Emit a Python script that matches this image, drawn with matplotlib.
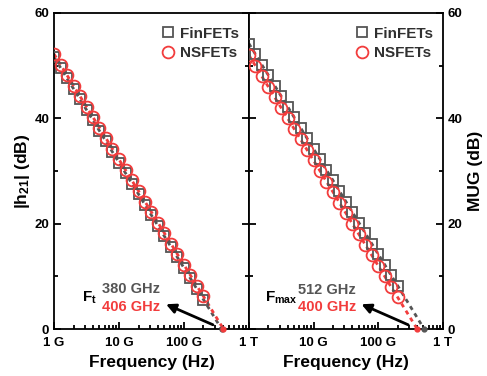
import numpy as np
import matplotlib
matplotlib.use("Agg")
import matplotlib.pyplot as plt

plt.rcParams['font.family'] = ['Liberation Sans', 'DejaVu Sans']
plt.rcParams['font.weight'] = 'bold'
plt.rcParams['axes.labelweight'] = 'bold'
plt.rcParams['mathtext.fontset'] = 'custom'
plt.rcParams['mathtext.rm'] = 'Liberation Sans:bold'
plt.rcParams['mathtext.it'] = 'Liberation Sans:bold'
plt.rcParams['mathtext.bf'] = 'Liberation Sans:bold'

# frequency points (GHz)
freq = [1.0, 1.26, 1.58, 2.0, 2.51, 3.16, 3.98, 5.01, 6.31, 7.94,
        10, 12.6, 15.8, 20, 25.1, 31.6, 39.8, 50.1, 63.1, 79.4,
        100, 126, 158, 200]

# |h21| (dB)
h21_fin = [51.6, 49.6, 47.6, 45.6, 43.6, 41.6, 39.6, 37.6, 35.6, 33.6,
           31.6, 29.6, 27.6, 25.6, 23.6, 21.6, 19.6, 17.6, 15.6, 13.6,
           11.6, 9.6, 7.6, 5.6]
h21_ns = [52.2, 50.2, 48.2, 46.2, 44.2, 42.2, 40.2, 38.2, 36.2, 34.2,
          32.2, 30.2, 28.2, 26.2, 24.2, 22.2, 20.2, 18.2, 16.2, 14.2,
          12.2, 10.2, 8.2, 6.2]

# MUG (dB)
mug_fin = [54.2, 52.2, 50.2, 48.2, 46.2, 44.2, 42.2, 40.2, 38.2, 36.2,
           34.2, 32.2, 30.2, 28.2, 26.2, 24.2, 22.2, 20.2, 18.2, 16.2,
           14.2, 12.2, 10.2, 8.2]
mug_ns = [52.0, 50.0, 48.0, 46.0, 44.0, 42.0, 40.0, 38.0, 36.0, 34.0,
          32.0, 30.0, 28.0, 26.0, 24.0, 22.0, 20.0, 18.0, 16.0, 14.0,
          12.0, 10.0, 8.0, 6.0]

# extrapolated cut-off frequencies (GHz)
ft = {'fin': 380, 'ns': 406}
fmax = {'fin': 512, 'ns': 400}

xtick_labels = ['1 G', '10 G', '100 G', '1 T']

gray = '#555555'
red = '#f23c3c'

fig = plt.figure(figsize=(4.87, 3.76), dpi=100)
ax1 = fig.add_axes([0.111, 0.125, 0.400, 0.8405])
ax2 = fig.add_axes([0.511, 0.125, 0.3985, 0.8405])


def panel(ax, fin, ns, fx):
    f = np.array(freq) * 1e9
    # extrapolation dashed lines down to 0 dB
    ax.plot(list(f) + [fx['fin'] * 1e9], list(fin) + [0], ls=(0, (1.5, 1.5)),
            color=gray, lw=2, zorder=2)
    ax.plot(list(f) + [fx['ns'] * 1e9], list(ns) + [0], ls=(0, (1.5, 1.5)),
            color=red, lw=2, zorder=2)
    ax.plot(f, fin, 's', mfc='none', mec=gray, ms=7, mew=1.3,
            ls='none', label='FinFETs', zorder=3)
    ax.plot(f, ns, 'o', mfc='none', mec=red, ms=8.5, mew=1.3,
            ls='none', label='NSFETs', zorder=4)
    ax.plot([fx['fin'] * 1e9], [0], 'o', color=gray, ms=3.5, zorder=5, clip_on=False)
    ax.plot([fx['ns'] * 1e9], [0], 'o', color=red, ms=3.5, zorder=5, clip_on=False)
    ax.set_xscale('log')
    ax.set_xlim(1e9, 1e12)
    ax.set_ylim(0, 60)
    ax.set_yticks([0, 20, 40, 60])
    ax.set_yticks([10, 30, 50], minor=True)
    ax.set_yticklabels(['0', '20', '40', '60'], fontweight='bold')
    ax.set_xticks([1e9, 1e10, 1e11, 1e12])
    ax.tick_params(which='both', direction='in', left=True, right=True,
                   labelsize=9.5, width=1.3)
    ax.tick_params(which='major', length=5)
    ax.tick_params(which='minor', length=3)
    ax.tick_params(axis='x', pad=6)
    for s in ax.spines.values():
        s.set_linewidth(1.3)
    ax.set_xlabel('Frequency (Hz)', fontsize=12.5, labelpad=4)
    leg = ax.legend(loc='upper right', bbox_to_anchor=(1.02, 1.0), frameon=False,
                    fontsize=11, handletextpad=0.4, borderpad=0.4,
                    labelspacing=0.35, handlelength=0.8)
    for t in leg.get_texts():
        t.set_color('#303030')


panel(ax1, h21_fin, h21_ns, ft)
panel(ax2, mug_fin, mug_ns, fmax)

ax1.set_xticklabels(xtick_labels, fontweight='bold')
ax2.set_xticklabels([''] + xtick_labels[1:], fontweight='bold')
ax1.set_ylabel(r'|h$_{21}$| (dB)', fontsize=12.5, labelpad=2)
ax2.yaxis.set_label_position('right')
ax2.tick_params(axis='y', labelleft=False, labelright=True)
ax2.set_ylabel('MUG (dB)', fontsize=12.5, labelpad=4)

# annotations
ax1.annotate('', xy=(5.3e10, 4.7), xytext=(2.8e11, 0.8),
             arrowprops=dict(arrowstyle='-|>', color='black', lw=2,
                             mutation_scale=14, shrinkA=0, shrinkB=0))
ax1.text(0.144, 0.10, r'F$_{\mathrm{t}}$', transform=ax1.transAxes,
         fontsize=11, ha='left', va='center', color='black')
ax1.text(0.246, 0.127, '380 GHz', transform=ax1.transAxes, fontsize=10.5,
         ha='left', va='center', color=gray)
ax1.text(0.246, 0.07, '406 GHz', transform=ax1.transAxes, fontsize=10.5,
         ha='left', va='center', color=red)

ax2.annotate('', xy=(5.5e10, 4.7), xytext=(2.9e11, 0.8),
             arrowprops=dict(arrowstyle='-|>', color='black', lw=2,
                             mutation_scale=14, shrinkA=0, shrinkB=0))
ax2.text(0.082, 0.098, r'F$_{\mathrm{max}}$', transform=ax2.transAxes,
         fontsize=11, ha='left', va='center', color='black')
ax2.text(0.253, 0.124, '512 GHz', transform=ax2.transAxes, fontsize=10.5,
         ha='left', va='center', color=gray)
ax2.text(0.253, 0.07, '400 GHz', transform=ax2.transAxes, fontsize=10.5,
         ha='left', va='center', color=red)

fig.savefig('out.png', dpi=100)
